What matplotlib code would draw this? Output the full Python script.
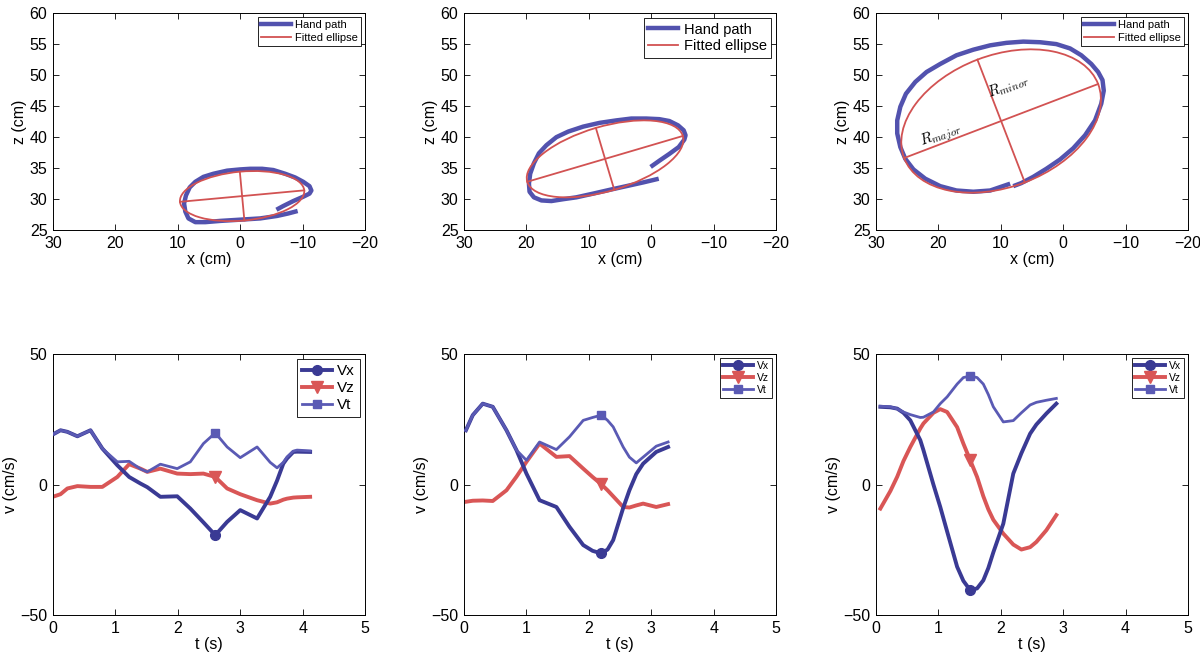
import numpy as np
import matplotlib
matplotlib.use("Agg")
import matplotlib.pyplot as plt
from matplotlib.patches import Ellipse
from matplotlib.lines import Line2D

plt.rcParams['font.family'] = ['Liberation Sans', 'DejaVu Sans']
plt.rcParams['mathtext.fontset'] = 'cm'

# ─── hand path (x, z in cm) ────────────────────────────────────────────
hand1_x = [-5.8, -6.9, -8.5, -10.1, -11.1, -11.4, -11.1, -10.1, -8.8, -7.2, -5.3, -3.5, -1.6, 0.0, 2.1, 4.3,
           5.9, 7.2, 8.1, 8.7, 9.0, 8.8, 8.3, 7.2, 5.6, 3.2, 0.0, -3.2, -5.9, -7.7, -9.2]
hand1_z = [28.3, 28.9, 29.7, 30.4, 30.9, 31.4, 32.1, 32.8, 33.5, 34.1, 34.7, 34.9, 34.9, 34.8, 34.6, 34.1,
           33.6, 32.8, 31.9, 30.6, 29.3, 28.0, 26.9, 26.3, 26.3, 26.5, 26.7, 26.9, 27.3, 27.7, 28.1]

hand2_x = [0.1, -1.3, -2.9, -4.4, -5.3, -5.5, -5.2, -4.3, -2.9, -1.3, 0.8, 3.2, 5.6, 8.3, 10.9, 13.3, 15.2,
           16.8, 18.0, 18.8, 19.4, 19.6, 19.5, 18.8, 17.6, 16.0, 14.1, 12.0, 9.3, 6.7, 4.0, 1.3, -1.2]
hand2_z = [35.2, 36.2, 37.3, 38.4, 39.6, 40.3, 41.1, 41.9, 42.6, 42.9, 43.0, 43.0, 42.7, 42.3, 41.7, 40.9, 40.0,
           38.7, 37.4, 35.8, 34.1, 32.5, 31.2, 30.3, 29.8, 29.7, 30.0, 30.3, 30.9, 31.5, 32.1, 32.7, 33.3]

hand3_x = [8.0, 6.7, 4.8, 2.7, 0.5, -1.6, -3.5, -5.1, -6.1, -6.5, -6.3, -5.6, -4.5, -2.9, -1.1, 1.1, 3.7, 6.4,
           9.1, 11.7, 14.4, 17.1, 19.7, 21.9, 23.7, 25.2, 26.1, 26.6, 26.6, 26.1, 25.3, 24.0, 22.1, 19.7,
           17.1, 14.4, 11.7, 8.5]
hand3_z = [32.1, 32.6, 33.6, 34.9, 36.4, 38.2, 40.3, 42.7, 45.4, 47.5, 49.2, 50.5, 51.8, 53.2, 54.3, 55.0, 55.3, 55.4,
           55.2, 54.8, 54.1, 53.2, 51.8, 50.5, 48.9, 47.0, 44.9, 42.7, 40.6, 38.4, 36.5, 34.8, 33.3, 32.1,
           31.4, 31.2, 31.4, 32.5]

# ─── fitted ellipses: centre x, centre z, semi-major, semi-minor, angle (deg) ──
ell_cx = [-0.3, 7.4, 9.95]
ell_cz = [30.5, 36.5, 42.6]
ell_a = [10.0, 13.0, 16.65]
ell_b = [3.95, 5.2, 10.6]
ell_ang = [174.7, 163.5, 159.0]

# ─── velocity traces (t in s, v in cm/s) ──────────────────────────────
t4 = [0.02, 0.12, 0.23, 0.39, 0.6, 0.79, 1.03, 1.22, 1.4, 1.51, 1.72, 1.99, 2.2, 2.41, 2.6, 2.79, 3.0, 3.27, 3.48, 3.59, 3.69, 3.75, 3.85, 3.91, 4.12]
vx4 = [19.5, 20.8, 20.2, 18.5, 20.8, 13.8, 7.4, 2.9, 0.4, -1.0, -4.7, -4.5, -9.2, -14.5, -19.4, -14.3, -9.8, -13.0, -4.7, 1.5, 8.0, 10.0, 12.5, 12.6, 12.5]
vz4 = [-4.5, -3.7, -1.5, -0.6, -0.9, -0.9, 2.9, 7.8, 6.1, 4.85, 6.1, 4.2, 4.0, 4.2, 2.9, -1.5, -3.7, -6.0, -7.3, -6.8, -5.8, -5.4, -5.0, -4.9, -4.7]
vt4 = [19.5, 20.8, 20.2, 18.5, 20.8, 13.8, 8.7, 8.9, 6.0, 4.85, 7.8, 6.1, 8.7, 15.7, 19.8, 14.4, 10.3, 14.4, 8.5, 6.4, 8.5, 10.6, 12.8, 13.2, 12.9]
mark4 = 14

t5 = [0.03, 0.14, 0.3, 0.46, 0.68, 0.84, 1.0, 1.21, 1.48, 1.69, 1.91, 2.06, 2.2, 2.3, 2.39, 2.55, 2.65, 2.76, 2.87, 3.08, 3.27]
vx5 = [20.8, 26.6, 31.0, 29.8, 20.8, 13.2, 4.2, -6.0, -8.6, -16.2, -23.2, -25.4, -26.4, -24.9, -21.3, -9.0, -2.2, 4.0, 8.0, 12.5, 14.4]
vz5 = [-6.6, -6.2, -6.1, -6.3, -2.2, 3.0, 8.7, 15.7, 10.6, 10.9, 6.1, 2.9, 0.1, -2.2, -4.5, -8.6, -8.8, -8.0, -7.3, -8.6, -7.5]
vt5 = [20.8, 26.6, 31.0, 29.8, 20.8, 13.2, 9.3, 16.3, 13.4, 18.3, 24.6, 25.7, 26.6, 24.6, 22.1, 14.4, 10.5, 8.3, 10.5, 14.7, 16.3]
mark5 = 12

t6 = [0.07, 0.23, 0.34, 0.44, 0.55, 0.71, 0.76, 0.92, 1.03, 1.14, 1.3, 1.4, 1.51, 1.62, 1.72, 1.8, 1.88, 2.04, 2.2, 2.33, 2.47, 2.57, 2.73, 2.89]
vx6 = [29.8, 29.6, 29.1, 27.5, 24.6, 17.0, 13.2, 0.0, -8.6, -18.0, -31.5, -36.9, -40.5, -39.8, -36.7, -32.0, -26.0, -15.0, 4.2, 12.0, 19.5, 23.0, 27.2, 31.0]
vz6 = [-9.2, -2.5, 3.0, 9.0, 14.4, 21.5, 23.4, 27.5, 28.9, 27.8, 22.0, 15.7, 9.3, 2.9, -4.5, -9.5, -13.5, -18.8, -23.0, -24.9, -24.0, -22.0, -17.5, -11.7]
vt6 = [30.0, 29.8, 29.0, 27.8, 26.8, 25.7, 25.8, 27.8, 31.0, 33.6, 38.5, 41.0, 41.6, 41.0, 38.5, 34.5, 29.8, 24.0, 24.5, 27.5, 30.5, 31.5, 32.3, 33.0]
mark6 = 12

HAND_C = '#5252ae'
ELL_C = '#d25252'
VX_C = '#3a3a94'
VZ_C = '#d95656'
VT_C = '#5a5ab4'

fig = plt.figure(figsize=(12, 6.54), dpi=100)

lefts = [0.0442, 0.3867, 0.730]
width = 0.26

top_axes = [fig.add_axes([l, 0.648, width, 0.332]) for l in lefts]
bot_axes = [fig.add_axes([l, 0.0596, width, 0.399]) for l in lefts]


def style(ax):
    ax.tick_params(direction='in', top=True, right=True, length=4, width=0.6, labelsize=11.5, pad=4)
    for s in ax.spines.values():
        s.set_linewidth(0.7)


def add_legend(ax, handles, labels, fs):
    # MATLAB legends keep a ~30px sample line whatever the font size
    leg = ax.legend(handles, labels, loc='upper right', fontsize=fs, fancybox=False,
                    framealpha=1, edgecolor='black', borderaxespad=0.35,
                    handlelength=21.6 / fs, handletextpad=0.35, borderpad=0.3,
                    labelspacing=0.2)
    leg.get_frame().set_linewidth(0.6)


# ─── top row: hand paths and fitted ellipses ──────────────────────────
hands = [(hand1_x, hand1_z), (hand2_x, hand2_z), (hand3_x, hand3_z)]
leg_sizes = [8, 10.5, 8]

for i, ax in enumerate(top_axes):
    hx, hz = hands[i]
    ax.plot(hx, hz, color=HAND_C, lw=3.2, solid_capstyle='butt', solid_joinstyle='round', zorder=2)
    cx, cz, a, b = ell_cx[i], ell_cz[i], ell_a[i], ell_b[i]
    th = np.deg2rad(ell_ang[i])
    ax.add_patch(Ellipse((cx, cz), 2 * a, 2 * b, angle=ell_ang[i], fill=False,
                         ec=ELL_C, lw=1.3, zorder=3))
    # major and minor axis lines
    ax.plot([cx - a * np.cos(th), cx + a * np.cos(th)],
            [cz - a * np.sin(th), cz + a * np.sin(th)], color=ELL_C, lw=1.3, zorder=3)
    ax.plot([cx + b * np.sin(th), cx - b * np.sin(th)],
            [cz - b * np.cos(th), cz + b * np.cos(th)], color=ELL_C, lw=1.3, zorder=3)

    ax.set_xlim(30, -20)
    ax.set_ylim(25, 60)
    ax.set_xticks([30, 20, 10, 0, -10, -20])
    ax.set_yticks(range(25, 61, 5))
    ax.set_xlabel('x (cm)', fontsize=11.5, labelpad=1)
    ax.set_ylabel('z (cm)', fontsize=11.5, labelpad=2)
    style(ax)

    handles = [Line2D([], [], color=HAND_C, lw=3.2), Line2D([], [], color=ELL_C, lw=1.3)]
    add_legend(ax, handles, ['Hand path', 'Fitted ellipse'], leg_sizes[i])

top_axes[2].text(19.6, 40.3, r'$R_{major}$', fontsize=11, rotation=20,
                 ha='center', va='center')
top_axes[2].text(8.85, 48.2, r'$R_{minor}$', fontsize=11, rotation=20,
                 ha='center', va='center')

# ─── bottom row: velocity components ──────────────────────────────────
vels = [(t4, vx4, vz4, vt4, mark4), (t5, vx5, vz5, vt5, mark5), (t6, vx6, vz6, vt6, mark6)]
vleg_sizes = [11, 7.5, 7.5]

for i, ax in enumerate(bot_axes):
    t, vx, vz, vt, m = vels[i]
    lx, = ax.plot(t, vx, color=VX_C, lw=2.8, marker='o', markevery=[m], ms=7, zorder=3)
    lz, = ax.plot(t, vz, color=VZ_C, lw=2.8, marker='v', markevery=[m], ms=8, zorder=2)
    lt, = ax.plot(t, vt, color=VT_C, lw=2.0, marker='s', markevery=[m], ms=6, zorder=4)

    ax.set_xlim(0, 5)
    ax.set_ylim(-50, 50)
    ax.set_xticks(range(0, 6))
    ax.set_yticks([-50, 0, 50])
    ax.set_xlabel('t (s)', fontsize=11.5, labelpad=1)
    ax.set_ylabel('v (cm/s)', fontsize=11.5, labelpad=2)
    style(ax)

    add_legend(ax, [lx, lz, lt], ['Vx', 'Vz', 'Vt'], vleg_sizes[i])

fig.savefig('out.png', dpi=100)
